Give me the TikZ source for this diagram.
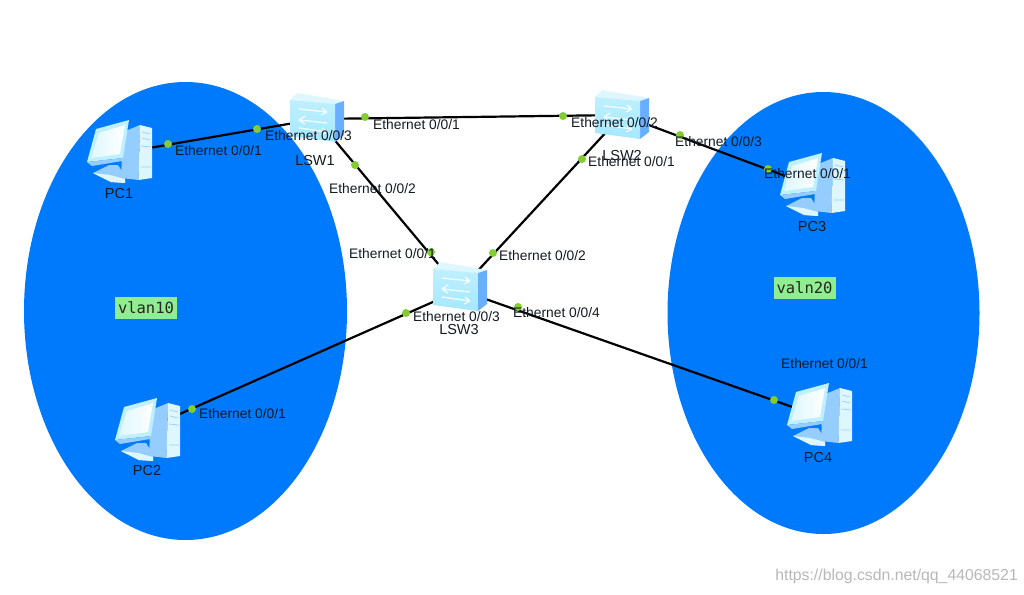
\documentclass[tikz,border=0pt]{standalone}
\usepackage{fontspec}
\setmainfont{Liberation Sans}
\setmonofont{DejaVu Sans Mono}
\definecolor{zone}{RGB}{0,122,252}
\definecolor{dot}{RGB}{130,205,50}
\definecolor{vlanbg}{RGB}{144,238,144}
\definecolor{labeltext}{RGB}{20,25,35}
\definecolor{iconA}{RGB}{190,240,255}
\definecolor{iconB}{RGB}{222,247,255}
\definecolor{iconC}{RGB}{150,205,255}
\definecolor{iconD}{RGB}{105,175,255}
\definecolor{iconE}{RGB}{165,232,255}
\tikzset{
  zonefill/.style={fill=zone,draw=none},
  link/.style={draw=black,line width=2.2pt},
  portdot/.style={circle,fill=dot,draw=none,inner sep=0pt,minimum size=8pt},
  port/.style={anchor=west,inner sep=0pt,font=\fontsize{13.8}{15}\selectfont,text=labeltext},
  devname/.style={anchor=center,inner sep=0pt,font=\fontsize{14.5}{16}\selectfont,text=labeltext},
  vlantag/.style={fill=vlanbg,draw=none,inner sep=0pt,minimum width=62pt,minimum height=22pt,font=\ttfamily\fontsize{15.5}{17}\selectfont,text=black!85},
  anchorpt/.style={inner sep=0pt,minimum size=1pt},
  pcicon/.pic={
    % tower
    \fill[iconC] (4,-18) -- (21,-25) -- (19.5,30) -- (2,28) -- cycle;
    \fill[iconB] (21,-25) -- (33,-22) -- (33,28) -- (19.5,30) -- cycle;
    \draw[iconC,line width=.7pt] (23,-18) -- (31,-16) (23,-12) -- (31,-10) (22,-4) -- (32,-3) (22,17) -- (32,17);
    % base
    \fill[iconC] (-26,23) -- (-10,15) -- (-1,15) -- (6,26) -- (6,33) -- (-8,32) -- cycle;
    \fill[iconB] (-26,23) -- (-9,25) -- (6,29) -- (6,33) -- (-8,32) -- cycle;
    % monitor
    \fill[iconA] (-23,-21) -- (10,-30) -- (4,8) -- (-32,12) -- cycle;
    \fill[iconC] (-32,12) -- (4,8) -- (3,11) -- (-27,16) -- cycle;
    \shade[left color=iconB,right color=white] (-20,-17) -- (6,-25) -- (1,4) -- (-28,8) -- cycle;
  },
  swicon/.pic={
    \fill[iconB] (-27,-18) -- (-20,-25) -- (27,-17) -- (18,-14) -- cycle;
    \fill[iconD] (18,-14) -- (27,-17) -- (27,17) -- (18,24) -- cycle;
    \shade[top color=iconA,bottom color=iconE] (-27,-18) -- (18,-14) -- (18,24) -- (-27,18) -- cycle;
    \begin{scope}[draw=white,line width=1.3pt,opacity=.85]
      \draw (-18,-9) -- (10,-6) (10,-6) -- (5,-10) (10,-6) -- (4,-3);
      \draw (-18,2) -- (10,5) (-18,2) -- (-12,-2) (-18,2) -- (-12,6);
      \draw (-18,10) -- (10,14) (10,14) -- (5,10) (10,14) -- (4,17);
    \end{scope}
  }
}
\begin{document}
\begin{tikzpicture}[x=1pt,y=-1pt]
\useasboundingbox (0,0) rectangle (1024,594);
\fill[white] (0,0) rectangle (1024,594);
% zones
\fill[zonefill] (185.5,311) ellipse [x radius=161.5,y radius=229];
\fill[zonefill] (823.5,313) ellipse [x radius=156,y radius=221];
% device anchors
\node[anchorpt] (pc1) at (120,153) {};
\node[anchorpt] (pc2) at (148,428) {};
\node[anchorpt] (pc3) at (812,186) {};
\node[anchorpt] (pc4) at (818,416) {};
\node[anchorpt] (lsw1) at (317,119) {};
\node[anchorpt] (lsw2) at (622,115) {};
\node[anchorpt] (lsw3) at (460,290) {};
% links
\draw[link] (pc1.center) -- (lsw1.center);
\draw[link] (lsw1.center) -- (lsw2.center);
\draw[link] (lsw1.center) -- (lsw3.center);
\draw[link] (lsw2.center) -- (lsw3.center);
\draw[link] (lsw2.center) -- (pc3.center);
\draw[link] (pc2.center) -- (lsw3.center);
\draw[link] (lsw3.center) -- (pc4.center);
% icons
\pic at (119,150) {pcicon};
\pic at (147,428) {pcicon};
\pic at (812,183) {pcicon};
\pic at (819,413) {pcicon};
\pic at (317,118) {swicon};
\pic at (622,115) {swicon};
\pic at (460,287) {swicon};
% port dots
\node[portdot] (d1) at (168,144) {};
\node[portdot] (d2) at (257,129) {};
\node[portdot] (d3) at (365,117) {};
\node[portdot] (d4) at (563,116) {};
\node[portdot] (d5) at (355,165) {};
\node[portdot] (d6) at (431,252) {};
\node[portdot] (d7) at (582,159) {};
\node[portdot] (d8) at (493,253) {};
\node[portdot] (d9) at (406,313) {};
\node[portdot] (d10) at (192,409) {};
\node[portdot] (d11) at (518,307) {};
\node[portdot] (d12) at (774,400) {};
\node[portdot] (d13) at (680,135) {};
\node[portdot] (d14) at (768,169) {};
% port labels
\node[port] (p1) at (175,150.5) {Ethernet 0/0/1};
\node[port] (p2) at (265,135.5) {Ethernet 0/0/3};
\node[port] (p3) at (373,124.5) {Ethernet 0/0/1};
\node[port] (p4) at (329,188.5) {Ethernet 0/0/2};
\node[port] (p5) at (349,253.5) {Ethernet 0/0/1};
\node[port] (p6) at (499,255.5) {Ethernet 0/0/2};
\node[port] (p7) at (413,316.5) {Ethernet 0/0/3};
\node[port] (p8) at (513,312.5) {Ethernet 0/0/4};
\node[port] (p9) at (571,122.5) {Ethernet 0/0/2};
\node[port] (p10) at (588,161.5) {Ethernet 0/0/1};
\node[port] (p11) at (675,141.5) {Ethernet 0/0/3};
\node[port] (p12) at (764,173.5) {Ethernet 0/0/1};
\node[port] (p13) at (781,363.5) {Ethernet 0/0/1};
\node[port] (p14) at (199,413.5) {Ethernet 0/0/1};
% device names
\node[devname] (n1) at (119,194) {PC1};
\node[devname] (n2) at (147,471) {PC2};
\node[devname] (n3) at (812,227) {PC3};
\node[devname] (n4) at (818,458) {PC4};
\node[devname] (n5) at (315,161) {LSW1};
\node[devname] (n6) at (622,156) {LSW2};
\node[devname] (n7) at (459,330) {LSW3};
% vlan tags
\node[vlantag] (v1) at (146,308) {vlan10};
\node[vlantag] (v2) at (804.5,288) {valn20};
% watermark
\node[anchor=east,inner sep=0pt,font=\fontsize{15.8}{17}\selectfont,text=black!28] (wm) at (1018,576) {https://blog.csdn.net/qq\_44068521};
\end{tikzpicture}
\end{document}
